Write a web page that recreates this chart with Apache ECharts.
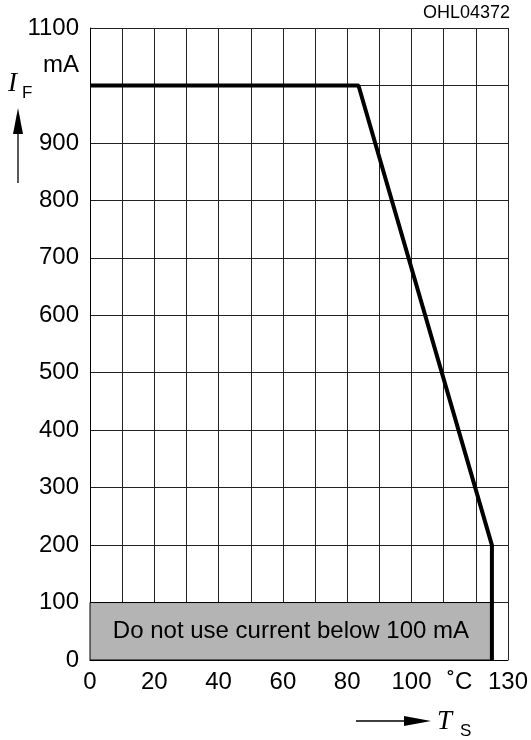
<!DOCTYPE html>
<html>
<head>
<meta charset="utf-8">
<script src="https://cdn.jsdelivr.net/npm/echarts@6/dist/echarts.min.js"></script>
<style>
  html, body { margin: 0; padding: 0; background: #fff; }
  #chart { width: 531px; height: 740px; }
</style>
</head>
<body>
<div id="chart"></div>
<script>
// derating curve: forward current vs solder temperature
var tempPoints = [0, 83.5, 125, 125];
var currentPoints = [1000, 1000, 200, 0];
// shaded "do not use" region
var noUseFrom = 0;
var noUseTo = 125;
var noUseLimit = 100;
// tick labels
var xLabelValues = [0, 20, 40, 60, 80, 100, 130];
var yHiddenLabel = 1000;
var unitXValue = 115;   // where "°C" sits on the x axis

var chart = echarts.init(document.getElementById('chart'));
var FONT = '"Liberation Sans", Arial, Helvetica, sans-serif';
var SERIF = '"Liberation Serif", "DejaVu Serif", serif';

var curve = [];
for (var i = 0; i < tempPoints.length; i++) {
  curve.push([tempPoints[i], currentPoints[i]]);
}

var option = {
  backgroundColor: '#fff',
  animation: false,
  grid: { left: 90, right: 20, top: 28, bottom: 80 },
  xAxis: [{
    type: 'value', min: 0, max: 130, interval: 10,
    axisLine: { show: true, lineStyle: { color: '#000', width: 1 } },
    axisTick: { show: false },
    splitLine: { show: true, lineStyle: { color: '#222', width: 1 } },
    axisLabel: {
      color: '#000', fontFamily: FONT, fontSize: 24, margin: 10,
      formatter: function (v) { return xLabelValues.indexOf(v) >= 0 ? String(v) : ''; }
    }
  }, {
    // only carries the unit label
    type: 'value', min: 0, max: 130, interval: 5, position: 'bottom',
    axisLine: { show: false }, axisTick: { show: false }, splitLine: { show: false },
    axisLabel: {
      color: '#000', fontFamily: FONT, fontSize: 24, margin: 10,
      formatter: function (v) { return v === unitXValue ? '˚C' : ''; }
    }
  }],
  yAxis: {
    type: 'value', min: 0, max: 1100, interval: 100,
    axisLine: { show: true, lineStyle: { color: '#000', width: 1 } },
    axisTick: { show: false },
    splitLine: { show: true, lineStyle: { color: '#222', width: 1 } },
    axisLabel: {
      color: '#000', fontFamily: FONT, fontSize: 24, margin: 11,
      formatter: function (v) { return v === yHiddenLabel ? '' : String(v); }
    }
  },
  series: [{
    type: 'line',
    data: curve,
    symbol: 'none',
    lineStyle: { color: '#000', width: 4 },
    z: 5,
    markArea: {
      silent: true,
      itemStyle: { color: '#b4b4b4', borderColor: '#000', borderWidth: 1 },
      label: {
        show: true, position: 'inside', color: '#000',
        fontFamily: FONT, fontSize: 24
      },
      data: [[
        { name: 'Do not use current below 100 mA', coord: [noUseFrom, 0] },
        { coord: [noUseTo, noUseLimit] }
      ]]
    }
  }],
  graphic: [
    { type: 'text', right: 21, top: 4,
      style: { text: 'OHL04372', font: '18px ' + FONT, fill: '#000' } },
    { type: 'text', x: 79, y: 65,
      style: { text: 'mA', font: '24px ' + FONT, fill: '#000', align: 'right', verticalAlign: 'middle' } },
    { type: 'text', x: 8, y: 84,
      style: { text: 'I', font: 'italic 27px ' + SERIF, fill: '#000', verticalAlign: 'middle' } },
    { type: 'text', x: 22, y: 93,
      style: { text: 'F', font: '17px ' + FONT, fill: '#000', verticalAlign: 'middle' } },
    { type: 'line', shape: { x1: 18, y1: 183, x2: 18, y2: 130 },
      style: { stroke: '#000', lineWidth: 1.3 } },
    { type: 'polygon', shape: { points: [[18, 108], [13, 134], [23, 134]] },
      style: { fill: '#000' } },
    { type: 'line', shape: { x1: 356, y1: 721, x2: 408, y2: 721 },
      style: { stroke: '#000', lineWidth: 1.3 } },
    { type: 'polygon', shape: { points: [[431, 721], [404, 716], [404, 726]] },
      style: { fill: '#000' } },
    { type: 'text', x: 437, y: 722,
      style: { text: 'T', font: 'italic 27px ' + SERIF, fill: '#000', verticalAlign: 'middle' } },
    { type: 'text', x: 460, y: 731,
      style: { text: 'S', font: '17px ' + FONT, fill: '#000', verticalAlign: 'middle' } }
  ]
};

chart.setOption(option);
</script>
</body>
</html>
